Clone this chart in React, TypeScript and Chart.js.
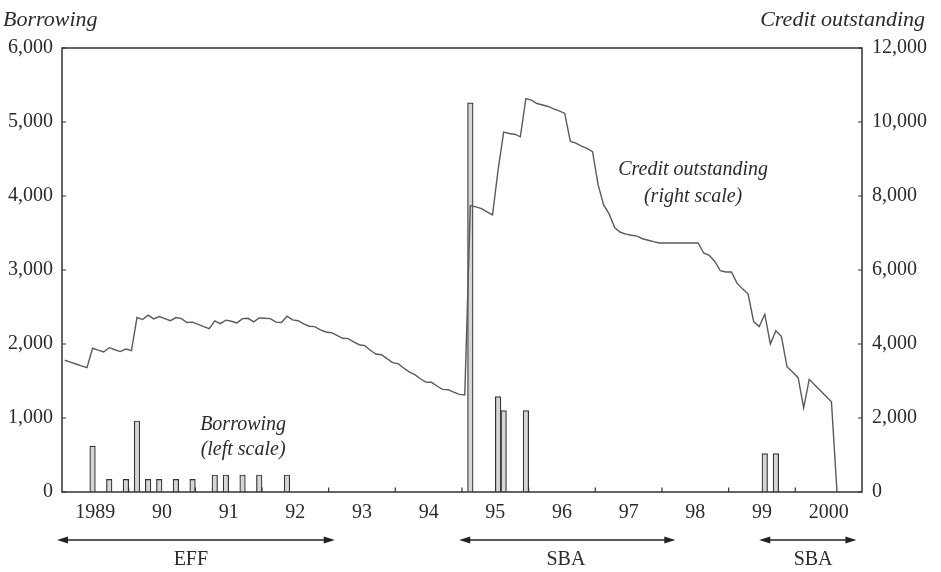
import React, { useEffect, useRef } from "react";
import { Chart, registerables } from "chart.js";

Chart.register(...registerables);

// ---------- DATA ----------
const START_YEAR = 1989;
const yearLabels = ["1989", "90", "91", "92", "93", "94", "95", "96", "97", "98", "99", "2000"];

// Credit outstanding, monthly from Jan 1989 (right scale)
const creditOutstanding: (number | null)[] = [
  // 1989
  3560, 3510, 3460, 3410, 3360, 3885, 3835, 3785, 3900, 3845, 3795, 3865,
  // 1990
  3820, 4715, 4660, 4780, 4680, 4740, 4685, 4630, 4715, 4685, 4580, 4590,
  // 1991
  4530, 4470, 4415, 4625, 4550, 4645, 4615, 4570, 4685, 4695, 4600, 4705,
  // 1992
  4695, 4685, 4590, 4580, 4750, 4650, 4630, 4545, 4480, 4470, 4380, 4325,
  // 1993
  4305, 4235, 4155, 4145, 4055, 3980, 3955, 3830, 3730, 3710, 3605, 3495,
  // 1994
  3470, 3350, 3245, 3170, 3060, 2970, 2965, 2865, 2775, 2765, 2700, 2640,
  // 1995
  2620, 7740, 7705, 7660, 7570, 7490, 8710, 9725, 9690, 9670, 9600, 10630,
  // 1996
  10590, 10500, 10460, 10420, 10355, 10300, 10230, 9475, 9430, 9350, 9285, 9200,
  // 1997
  8300, 7760, 7510, 7140, 7020, 6970, 6940, 6915, 6845, 6805, 6765, 6730,
  // 1998
  6730, 6730, 6730, 6730, 6730, 6730, 6730, 6460, 6395, 6230, 5980, 5945,
  // 1999
  5945, 5645, 5490, 5350, 4605, 4470, 4805, 4000, 4360, 4200, 3385, 3240,
  // 2000
  3090, 2275, 3045, 2890, 2740, 2590, 2440, 0, null, null, null, null,
];

// Borrowing (left scale)
const borrowingDates = [
  "1989-06", "1989-09", "1989-12", "1990-02", "1990-04", "1990-06", "1990-09",
  "1990-12", "1991-04", "1991-06", "1991-09", "1991-12", "1992-05",
  "1995-02", "1995-07", "1995-08", "1995-12", "1999-07", "1999-09",
];
const borrowingValues = [
  620, 170, 170, 960, 170, 170, 170,
  170, 230, 230, 230, 230, 230,
  5260, 1290, 1100, 1100, 520, 520,
];

const leftTicks = [0, 1000, 2000, 3000, 4000, 5000, 6000];
const rightTicks = [0, 2000, 4000, 6000, 8000, 10000, 12000];

// Programme arrows below the axis (months since Jan 1989)
const programNames = ["EFF", "SBA", "SBA"];
const programStart = [-0.9, 71.5, 125.5];
const programEnd = [49.1, 110.4, 143.0];
const programLabelAt = [23.2, 90.7, 135.2];

// ---------- helpers ----------
const monthIndex = (d: string) => {
  const [y, m] = d.split("-").map(Number);
  return (y - START_YEAR) * 12 + (m - 1);
};

const FONT = '"Liberation Serif", "Times New Roman", serif';
const TEXT = "#2b2b2b";

const overlayPlugin = {
  id: "overlay",
  afterDatasetsDraw(chart: any) {
    const { ctx, chartArea: a, scales } = chart;
    const x = scales.x, y = scales.y, y1 = scales.y1;
    ctx.save();
    // frame
    ctx.strokeStyle = "#333";
    ctx.lineWidth = 1.5;
    ctx.strokeRect(a.left, a.top, a.right - a.left, a.bottom - a.top);
    // inward tick marks
    ctx.lineWidth = 1.2;
    ctx.beginPath();
    leftTicks.forEach((v) => {
      const py = y.getPixelForValue(v);
      ctx.moveTo(a.left, py);
      ctx.lineTo(a.left + 4, py);
    });
    rightTicks.forEach((v) => {
      const py = y1.getPixelForValue(v);
      ctx.moveTo(a.right, py);
      ctx.lineTo(a.right - 4, py);
    });
    for (let i = 1; i < yearLabels.length; i++) {
      const px = x.getPixelForValue(i * 12);
      ctx.moveTo(px, a.bottom);
      ctx.lineTo(px, a.bottom - 4.5);
    }
    ctx.stroke();

    ctx.fillStyle = TEXT;
    ctx.textBaseline = "middle";
    // axis titles
    ctx.font = `italic 22px ${FONT}`;
    ctx.textAlign = "left";
    ctx.fillText("Borrowing", 3, 20);
    ctx.textAlign = "right";
    ctx.fillText("Credit outstanding", 925, 20);

    // inner annotations
    ctx.font = `italic 20px ${FONT}`;
    ctx.textAlign = "center";
    const bx = x.getPixelForValue(32.6);
    ctx.fillText("Borrowing", bx, y.getPixelForValue(915));
    ctx.fillText("(left scale)", bx, y.getPixelForValue(565));
    const cx = x.getPixelForValue(113.6);
    ctx.fillText("Credit outstanding", cx, y1.getPixelForValue(8715));
    ctx.fillText("(right scale)", cx, y1.getPixelForValue(7985));

    // programme arrows
    const ay = a.bottom + 48;
    ctx.strokeStyle = "#222";
    ctx.fillStyle = "#222";
    ctx.lineWidth = 1.4;
    programNames.forEach((name, i) => {
      const x0 = x.getPixelForValue(programStart[i]);
      const x1 = x.getPixelForValue(programEnd[i]);
      ctx.beginPath();
      ctx.moveTo(x0 + 6, ay);
      ctx.lineTo(x1 - 6, ay);
      ctx.stroke();
      ctx.beginPath();
      ctx.moveTo(x0, ay);
      ctx.lineTo(x0 + 11, ay - 3.5);
      ctx.lineTo(x0 + 11, ay + 3.5);
      ctx.closePath();
      ctx.fill();
      ctx.beginPath();
      ctx.moveTo(x1, ay);
      ctx.lineTo(x1 - 11, ay - 3.5);
      ctx.lineTo(x1 - 11, ay + 3.5);
      ctx.closePath();
      ctx.fill();
      ctx.fillStyle = TEXT;
      ctx.font = `20px ${FONT}`;
      ctx.textAlign = "center";
      ctx.fillText(name, x.getPixelForValue(programLabelAt[i]), ay + 20);
      ctx.fillStyle = "#222";
    });
    ctx.restore();
  },
};

export default function App() {
  const ref = useRef<HTMLCanvasElement | null>(null);

  useEffect(() => {
    document.body.style.margin = "0";
    if (!ref.current) return;
    const lineData = creditOutstanding.map((v, i) => ({ x: i + 0.5, y: v }));
    const barData = borrowingDates.map((d, i) => ({ x: monthIndex(d) + 0.5, y: borrowingValues[i] }));
    const tickFont = { family: FONT, size: 20 };

    const chart = new Chart(ref.current, {
      data: {
        datasets: [
          {
            type: "line",
            label: "Credit outstanding (right scale)",
            data: lineData as any,
            yAxisID: "y1",
            borderColor: "#5a5a5a",
            borderWidth: 1.4,
            pointRadius: 0,
            tension: 0,
            spanGaps: false,
            order: 0,
          },
          {
            type: "bar",
            label: "Borrowing (left scale)",
            data: barData as any,
            yAxisID: "y",
            backgroundColor: "#d6d6d6",
            borderColor: "#333",
            borderWidth: 1.2,
            barPercentage: 1,
            categoryPercentage: 1,
            order: 1,
          },
        ],
      },
      options: {
        responsive: false,
        animation: false,
        layout: { padding: { top: 48, left: 0, right: 0, bottom: 0 } },
        plugins: { legend: { display: false }, tooltip: { enabled: false } },
        scales: {
          x: {
            type: "linear",
            min: 0,
            max: 144,
            offset: false,
            grid: { display: false, drawTicks: false, offset: false },
            border: { display: false },
            afterBuildTicks: (s: any) => {
              s.ticks = yearLabels.map((_, i) => ({ value: i * 12 + 6 }));
            },
            afterFit: (s: any) => {
              s.height = 80;
            },
            ticks: {
              autoSkip: false,
              maxRotation: 0,
              padding: 9,
              color: TEXT,
              font: tickFont,
              callback: (_v: any, i: number) => yearLabels[i],
            },
          },
          y: {
            type: "linear",
            position: "left",
            min: 0,
            max: 6000,
            grid: { display: false, drawTicks: false },
            border: { display: false },
            afterBuildTicks: (s: any) => {
              s.ticks = leftTicks.map((v) => ({ value: v }));
            },
            afterFit: (s: any) => {
              s.width = 62;
            },
            ticks: {
              padding: 9,
              color: TEXT,
              font: tickFont,
              callback: (v: any) => Number(v).toLocaleString("en-US"),
            },
          },
          y1: {
            type: "linear",
            position: "right",
            min: 0,
            max: 12000,
            grid: { display: false, drawTicks: false },
            border: { display: false },
            afterBuildTicks: (s: any) => {
              s.ticks = rightTicks.map((v) => ({ value: v }));
            },
            afterFit: (s: any) => {
              s.width = 79;
            },
            ticks: {
              padding: 10,
              color: TEXT,
              font: tickFont,
              callback: (v: any) => Number(v).toLocaleString("en-US"),
            },
          },
        },
      } as any,
      plugins: [overlayPlugin],
    });
    return () => chart.destroy();
  }, []);

  return (
    <div style={{ width: 941, height: 572, background: "#fff" }}>
      <canvas ref={ref} width={941} height={572} style={{ display: "block" }} />
    </div>
  );
}
